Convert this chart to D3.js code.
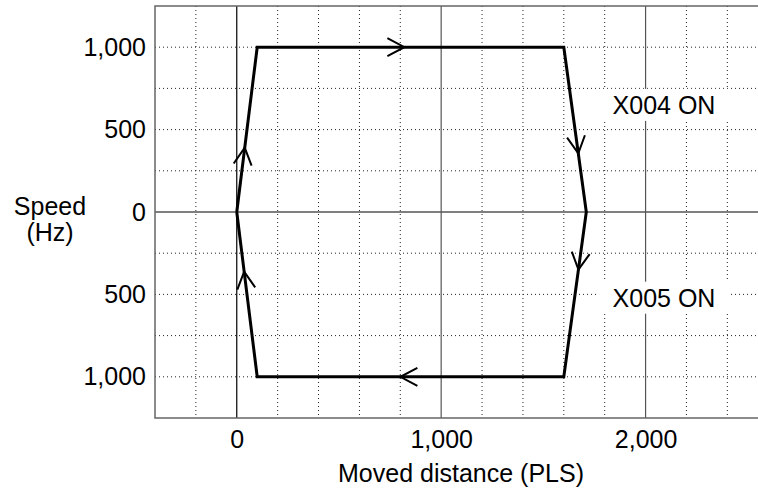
<!DOCTYPE html>
<html>
<head>
<meta charset="utf-8">
<script src="https://cdn.jsdelivr.net/npm/d3@7"></script>
<style>
  body { margin: 0; background: #fff; }
  svg text { font-family: "Liberation Sans", Arial, Helvetica, sans-serif; fill: #000; }
</style>
</head>
<body>
<svg class="chart" width="758" height="489"></svg>
<script>
// Data
const pathX = [0, 100, 1600, 1710, 1600, 100, 0];
const pathY = [0, 1000, 1000, 0, -1000, -1000, 0];
// one arrow per segment: fraction along the segment where the tip sits
const arrowT = [0.39, 0.48, 0.644, 0.35, 0.533, 0.638];
const xTicks = [0, 1000, 2000];
const yTicks = [1000, 500, 0, -500, -1000];
const xGrid = [-200, 200, 400, 600, 800, 1200, 1400, 1600, 1800, 2200, 2400];
const yGrid = [-1000, -750, -500, -250, 250, 500, 750, 1000];
const xSolid = [1000, 2000];
const labels = [
  {text: "X004 ON", x: 2090, y: 650},
  {text: "X005 ON", x: 2090, y: -520}
];

let svg = d3.select("svg.chart");

// Scales
let x = d3.scaleLinear().domain([-400, 2550]).range([155, 758]);
let y = d3.scaleLinear().domain([-1250, 1250]).range([418, 6]);

// dotted grid
let grid = svg.append("g");
grid.selectAll("line.vx")
  .data(xGrid)
  .enter().append("line")
    .attr("x1", d => x(d)).attr("x2", d => x(d))
    .attr("y1", y(1250)).attr("y2", y(-1250))
    .attr("stroke", "#222").attr("stroke-width", 1)
    .attr("stroke-dasharray", "1,3");
grid.selectAll("line.hy")
  .data(yGrid)
  .enter().append("line")
    .attr("x1", x(-400)).attr("x2", x(2550))
    .attr("y1", d => y(d)).attr("y2", d => y(d))
    .attr("stroke", "#222").attr("stroke-width", 1)
    .attr("stroke-dasharray", "1,3");

// solid grid lines
grid.selectAll("line.sx")
  .data(xSolid)
  .enter().append("line")
    .attr("x1", d => x(d)).attr("x2", d => x(d))
    .attr("y1", y(1250)).attr("y2", y(-1250))
    .attr("stroke", "#555").attr("stroke-width", 1.2);
grid.append("line")
  .attr("x1", x(-400)).attr("x2", x(2550))
  .attr("y1", y(0)).attr("y2", y(0))
  .attr("stroke", "#555").attr("stroke-width", 1.5);
grid.append("line")
  .attr("x1", x(0)).attr("x2", x(0))
  .attr("y1", y(1250)).attr("y2", y(-1250))
  .attr("stroke", "#000").attr("stroke-width", 1.2);

// border (left, top, bottom)
svg.append("path")
  .attr("d", `M${x(2550)},${y(1250)}H${x(-400)}V${y(-1250)}H${x(2550)}`)
  .attr("fill", "none")
  .attr("stroke", "#666")
  .attr("stroke-width", 1.5);

// Axes
let xAxis = svg.append("g")
  .attr("transform", `translate(0,${y(-1250)})`)
  .call(d3.axisBottom(x).tickValues(xTicks).tickSize(0).tickPadding(12)
    .tickFormat(d3.format(",")));
let yAxis = svg.append("g")
  .attr("transform", `translate(${x(-400)},0)`)
  .call(d3.axisLeft(y).tickValues(yTicks).tickSize(0).tickPadding(9)
    .tickFormat(d => d3.format(",")(Math.abs(d))));
svg.selectAll(".domain").remove();
svg.selectAll(".tick text").attr("font-size", 25)
  .style("font-family", "'Liberation Sans', Arial, sans-serif");

// axis titles
svg.append("text")
  .attr("x", 461).attr("y", 482)
  .attr("text-anchor", "middle")
  .attr("font-size", 25)
  .text("Moved distance (PLS)");
svg.append("text")
  .attr("x", 50).attr("y", 215)
  .attr("text-anchor", "middle")
  .attr("font-size", 25)
  .text("Speed");
svg.append("text")
  .attr("x", 50).attr("y", 241)
  .attr("text-anchor", "middle")
  .attr("font-size", 25)
  .text("(Hz)");

// labels with white box
labels.forEach(function (l) {
  let g = svg.append("g");
  let t = g.append("text")
    .attr("x", x(l.x)).attr("y", y(l.y))
    .attr("dy", "0.36em")
    .attr("text-anchor", "middle")
    .attr("font-size", 25)
    .text(l.text);
  let b = t.node().getBBox();
  g.insert("rect", "text")
    .attr("x", b.x - 15).attr("y", b.y - 2)
    .attr("width", b.width + 30).attr("height", b.height + 4)
    .attr("fill", "#fff");
});

// the speed path
let pts = pathX.map((d, i) => [x(d), y(pathY[i])]);
svg.append("path")
  .attr("d", d3.line()(pts))
  .attr("fill", "none")
  .attr("stroke", "#000")
  .attr("stroke-width", 3)
  .attr("stroke-linejoin", "miter");

// arrows (open chevrons)
let arrows = arrowT.map(function (t, i) {
  let a = pts[i], b = pts[i + 1];
  let tip = [a[0] + (b[0] - a[0]) * t, a[1] + (b[1] - a[1]) * t];
  let ang = Math.atan2(b[1] - a[1], b[0] - a[0]) * 180 / Math.PI;
  return {tip: tip, ang: ang};
});
svg.append("g")
  .selectAll("path")
  .data(arrows)
  .enter()
  .append("path")
    .attr("transform", d => `translate(${d.tip[0]},${d.tip[1]}) rotate(${d.ang})`)
    .attr("d", "M-17,-9L0,0L-17,9")
    .attr("fill", "none")
    .attr("stroke", "#000")
    .attr("stroke-width", 2);
</script>
</body>
</html>
